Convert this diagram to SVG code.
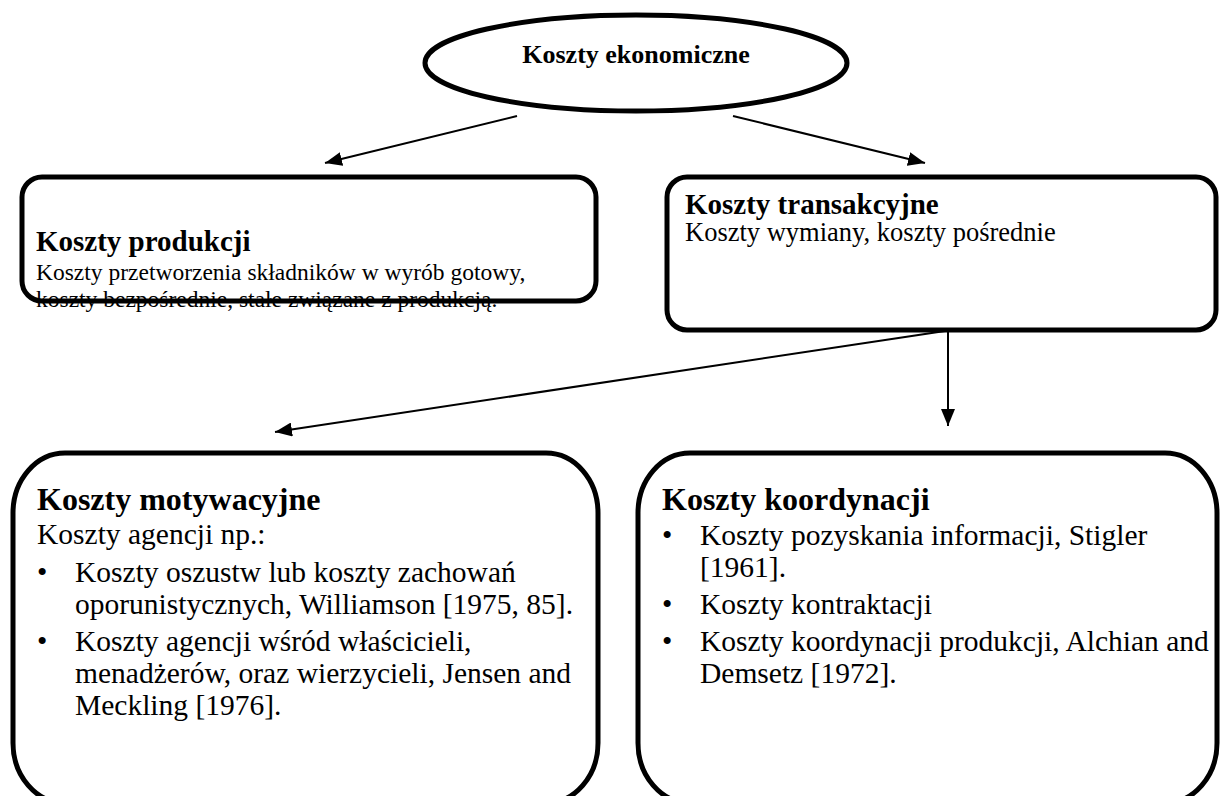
<svg xmlns="http://www.w3.org/2000/svg" width="1220" height="796" viewBox="0 0 1220 796">
<defs>
<style>
.box{fill:none;stroke:#000;stroke-width:5}
.bg{fill:#fff;stroke:none}
.t{font-family:"Liberation Serif","Times New Roman",serif;fill:#000}
.b{font-weight:bold}
.h1{font-size:26px}
.h2{font-size:29px}
.s2{font-size:23.5px}
.s2r{font-size:26.5px}
.h3{font-size:32px}
.s3{font-size:29.5px}
.con{stroke:#000;stroke-width:2;fill:none}
</style>
<marker id="arrL" viewBox="0 0 10 10" refX="10" refY="5" markerWidth="17" markerHeight="14" markerUnits="userSpaceOnUse" orient="auto" preserveAspectRatio="none">
<path d="M0,0 L10,5 L0,10 z" fill="#000"/>
</marker>
</defs>
<rect width="1220" height="796" fill="#fff"/>

<g id="connectors">
<line class="con" x1="517" y1="116" x2="325" y2="163" marker-end="url(#arrL)"/>
<line class="con" x1="733" y1="116" x2="925" y2="163" marker-end="url(#arrL)"/>
<line class="con" x1="945" y1="331" x2="275" y2="432" marker-end="url(#arrL)"/>
<line class="con" x1="948" y1="331" x2="948" y2="426" marker-end="url(#arrL)"/>
</g>

<g id="node-ekonomiczne">
<ellipse cx="636" cy="63" rx="211" ry="48" fill="#fff" stroke="#000" stroke-width="5"/>
<text class="t b h1" x="636" y="63" text-anchor="middle">Koszty ekonomiczne</text>
</g>

<g id="node-produkcji">
<rect class="bg" x="22" y="177" width="574" height="124" rx="20" ry="20"/>
<text class="t b h2" x="36" y="251">Koszty produkcji</text>
<text class="t s2" x="36" y="280">Koszty przetworzenia składników w wyrób gotowy,</text>
<text class="t s2" x="36" y="307">koszty bezpośrednie, stałe związane z produkcją.</text>
<rect class="box" x="22" y="177" width="574" height="124" rx="20" ry="20"/>
</g>

<g id="node-transakcyjne">
<rect x="667" y="177" width="549" height="153" rx="20" ry="20" fill="#fff" stroke="#000" stroke-width="5"/>
<text class="t b h2" x="685" y="214">Koszty transakcyjne</text>
<text class="t s2r" x="685" y="241">Koszty wymiany, koszty pośrednie</text>
</g>

<g id="node-motywacyjne">
<rect x="13" y="453" width="585" height="350" rx="52" ry="60" fill="#fff" stroke="#000" stroke-width="5"/>
<text class="t b h3" x="37" y="510">Koszty motywacyjne</text>
<text class="t s3" x="37" y="544">Koszty agencji np.:</text>
<text class="t s3" x="37" y="582">•</text>
<text class="t s3" x="75" y="582">Koszty oszustw lub koszty zachowań</text>
<text class="t s3" x="75" y="614">oporunistycznych, Williamson [1975, 85].</text>
<text class="t s3" x="37" y="651">•</text>
<text class="t s3" x="75" y="651">Koszty agencji wśród właścicieli,</text>
<text class="t s3" x="75" y="683">menadżerów, oraz wierzycieli, Jensen and</text>
<text class="t s3" x="75" y="715">Meckling [1976].</text>
</g>

<g id="node-koordynacji">
<rect x="638" y="453" width="579" height="350" rx="52" ry="60" fill="#fff" stroke="#000" stroke-width="5"/>
<text class="t b h3" x="662" y="510">Koszty koordynacji</text>
<text class="t s3" x="662" y="545">•</text>
<text class="t s3" x="700" y="545">Koszty pozyskania informacji, Stigler</text>
<text class="t s3" x="700" y="577">[1961].</text>
<text class="t s3" x="662" y="614">•</text>
<text class="t s3" x="700" y="614">Koszty kontraktacji</text>
<text class="t s3" x="662" y="651">•</text>
<text class="t s3" x="700" y="651">Koszty koordynacji produkcji, Alchian and</text>
<text class="t s3" x="700" y="683">Demsetz [1972].</text>
</g>
</svg>
